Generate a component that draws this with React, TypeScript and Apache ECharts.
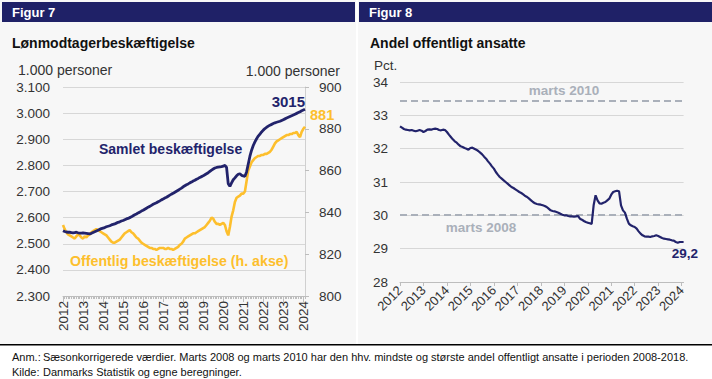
import React, { useEffect, useRef } from "react";
import * as echarts from "echarts";

const years = [2012, 2013, 2014, 2015, 2016, 2017, 2018, 2019, 2020, 2021, 2022, 2023, 2024];
const months: string[] = years
  .flatMap((y) => ["01", "02", "03", "04", "05", "06", "07", "08", "09", "10", "11", "12"].map((m) => `${y}-${m}`))
  .slice(0, 146);

// Lønmodtagerbeskæftigelse, samlet (1.000 personer, venstre akse)
const samlet = [
  2550, 2547, 2545, 2544, 2544, 2543, 2542, 2543, 2544, 2542, 2541, 2541,
  2542, 2541, 2540, 2539, 2538, 2540, 2543, 2546, 2549, 2552, 2555, 2558,
  2560, 2562, 2565, 2567, 2569, 2572, 2574, 2576, 2579, 2582, 2584, 2587,
  2589, 2592, 2595, 2597, 2600, 2603, 2607, 2611, 2614, 2618, 2621, 2625,
  2628, 2632, 2636, 2640, 2643, 2647, 2651, 2654, 2657, 2661, 2664, 2668,
  2671, 2675, 2678, 2682, 2686, 2690, 2693, 2697, 2701, 2705, 2709, 2713,
  2718, 2722, 2726, 2729, 2733, 2736, 2740, 2743, 2747, 2750, 2754, 2757,
  2760, 2764, 2768, 2772, 2777, 2782, 2786, 2790, 2792, 2793, 2794, 2795,
  2797, 2800, 2792, 2730, 2720, 2733, 2745, 2752, 2760, 2766, 2768, 2762,
  2760, 2758, 2775, 2805, 2835, 2858, 2876, 2890, 2902, 2912, 2920, 2928,
  2935, 2941, 2946, 2950, 2954, 2957, 2960, 2963, 2965, 2967, 2969, 2972,
  2975, 2978, 2981, 2984, 2987, 2990, 2993, 2996, 2999, 3002, 3005, 3009,
  3012, 3015,
];

// Offentlig beskæftigelse (1.000 personer, højre akse)
const offentlig = [
  834, 832, 830.5, 829.5, 829, 828.5, 828, 827.5, 828.5, 829.5, 829, 828,
  827.5, 828.5, 828, 829, 829.5, 830.5, 831, 831.5, 832, 831.5, 831, 830.5,
  830, 829.5, 829, 828, 827, 826, 825.5, 825.5, 826, 826.5, 827, 828,
  829, 830, 830.5, 831, 831.5, 830.5, 830, 829, 828, 827.5, 826.5, 825.5,
  825, 824.5, 824, 823.5, 823, 823, 822.5, 822.5, 822, 822.5, 823, 823,
  823, 822.5, 822.5, 823, 822.5, 822.5, 822, 822.5, 823, 823.5, 824.5, 825,
  826, 827.5, 828, 828.5, 829, 829.5, 830, 830, 830.5, 831, 831.5, 832,
  832.5, 833, 834, 835, 836, 837.5, 837, 835.5, 834.5, 834.5, 834, 834.5,
  835, 834, 831, 829, 833, 838, 841, 845, 847, 847.5, 848, 849,
  849, 850, 855, 860, 862, 864, 865, 866, 866.5, 867, 867, 867.5,
  867.5, 868, 868, 868.5, 869, 870, 871.5, 873, 874, 874.5, 875, 875.5,
  876, 876.5, 877, 877, 877.5, 877.5, 878, 878, 878.5, 877, 876, 878.5,
  880, 881,
];

// Andel offentligt ansatte (pct.)
const andel = [
  32.67, 32.63, 32.59, 32.57, 32.56, 32.55, 32.56, 32.54, 32.52, 32.54, 32.56, 32.54,
  32.5, 32.53, 32.57, 32.58, 32.57, 32.59, 32.6, 32.59, 32.56, 32.55, 32.57, 32.56,
  32.5, 32.42, 32.35, 32.28, 32.22, 32.18, 32.12, 32.07, 32.05, 32.02, 32.0, 31.97,
  32.02, 32.03, 32.0, 31.97, 31.93, 31.88, 31.83, 31.76, 31.7, 31.62, 31.55, 31.47,
  31.4, 31.3, 31.22, 31.15, 31.1, 31.05, 31.0, 30.95, 30.9, 30.85, 30.82, 30.78,
  30.74, 30.7, 30.67, 30.63, 30.58, 30.55, 30.5, 30.45, 30.4, 30.36, 30.34, 30.33,
  30.32, 30.3, 30.28, 30.25, 30.2, 30.15, 30.13, 30.12, 30.1, 30.08, 30.05, 30.02,
  30.0, 30.0, 29.98, 29.97, 29.97, 29.96, 29.97, 29.98, 29.9, 29.87, 29.83, 29.8,
  29.78, 29.76, 29.74, 30.3, 30.6, 30.45, 30.36, 30.35, 30.38, 30.4, 30.45, 30.5,
  30.62, 30.7, 30.72, 30.74, 30.72, 30.3, 30.15, 30.08, 29.9, 29.75, 29.7, 29.67,
  29.65, 29.6, 29.52, 29.45, 29.4, 29.37, 29.36, 29.36, 29.35, 29.37, 29.38, 29.4,
  29.38, 29.35, 29.32, 29.3, 29.29, 29.28, 29.27, 29.25, 29.24, 29.2, 29.18, 29.2,
  29.2, 29.2,
];

const refValues = [33.45, 30.02];
const refLabels = ["marts 2010", "marts 2008"];

const NAVY = "#22236b";
const ORANGE = "#fdbf2d";
const GRID = "#d7d7d7";
const AXIS = "#bdbdbd";
const LABEL = "#333333";
const REF = "#aab0ba";
const FONT = "'Liberation Sans', Arial, sans-serif";

const fmtThousand = (v: number) => {
  const t = Math.floor(v / 1000);
  const r = v % 1000;
  return t > 0 ? `${t}.${String(r).padStart(3, "0")}` : String(v);
};

export default function App() {
  const ref = useRef<HTMLDivElement>(null);

  useEffect(() => {
    if (!ref.current) return;
    const chart = echarts.init(ref.current, undefined, { renderer: "svg" });

    const txt = (
      text: string,
      x: number,
      y: number,
      opts: { size?: number; weight?: string; color?: string; align?: string } = {}
    ) => ({
      type: "text",
      x,
      y,
      silent: true,
      z: 100,
      style: {
        text,
        fill: opts.color ?? LABEL,
        fontSize: opts.size ?? 13.5,
        fontWeight: opts.weight ?? "normal",
        fontFamily: FONT,
        align: opts.align ?? "left",
        verticalAlign: "middle",
      },
    });

    const option: any = {
      animation: false,
      backgroundColor: "#ffffff",
      textStyle: { fontFamily: FONT },
      graphic: [
        { type: "rect", shape: { x: 0, y: 0, width: 356, height: 344 }, style: { fill: "#f7f7f7" }, silent: true, z: -10 },
        { type: "rect", shape: { x: 358, y: 0, width: 354, height: 344 }, style: { fill: "#f7f7f7" }, silent: true, z: -10 },
        { type: "rect", shape: { x: 2, y: 2, width: 353, height: 20 }, style: { fill: "#1f2167" }, silent: true, z: -5 },
        { type: "rect", shape: { x: 359, y: 2, width: 353, height: 20 }, style: { fill: "#1f2167" }, silent: true, z: -5 },
        { type: "rect", shape: { x: 0, y: 344, width: 712, height: 1.5 }, style: { fill: "#000000" }, silent: true },
        txt("Figur 7", 12, 12.5, { size: 13, weight: "bold", color: "#ffffff" }),
        txt("Figur 8", 369, 12.5, { size: 13, weight: "bold", color: "#ffffff" }),
        txt("Lønmodtagerbeskæftigelse", 12, 43, { size: 14, weight: "bold", color: "#111111" }),
        txt("Andel offentligt ansatte", 370, 43, { size: 14, weight: "bold", color: "#111111" }),
        txt("1.000 personer", 18, 70, { size: 14 }),
        txt("1.000 personer", 340, 71, { size: 14, align: "right" }),
        txt("Pct.", 374, 65, { size: 13.5 }),
        txt("Samlet beskæftigelse", 99, 149, { size: 14, weight: "bold", color: NAVY }),
        txt("Offentlig beskæftigelse (h. akse)", 70, 261, { size: 14.2, weight: "bold", color: ORANGE }),
        txt(String(samlet[samlet.length - 1]), 305, 101, { size: 15, weight: "bold", color: NAVY, align: "right" }),
        txt(String(offentlig[offentlig.length - 1]), 310, 115, { size: 14.5, weight: "bold", color: ORANGE }),
        txt(String(andel[andel.length - 1]).replace(".", ","), 698, 253, { size: 13.5, weight: "bold", color: NAVY, align: "right" }),
        txt(refLabels[0], 564, 90, { size: 13.5, weight: "bold", color: REF, align: "center" }),
        txt(refLabels[1], 481, 227, { size: 13.5, weight: "bold", color: REF, align: "center" }),
        txt("Anm.:", 12, 357, { size: 11, color: "#111111" }),
        txt(
          "Sæsonkorrigerede værdier. Marts 2008 og marts 2010 har den hhv. mindste og største andel offentligt ansatte i perioden 2008-2018.",
          43,
          357,
          { size: 11, color: "#111111" }
        ),
        txt("Kilde:", 12, 372, { size: 11, color: "#111111" }),
        txt("Danmarks Statistik og egne beregninger.", 43, 372, { size: 11, color: "#111111" }),
      ],
      grid: [
        { left: 63, top: 87, width: 242, height: 209, containLabel: false },
        { left: 400, top: 82, width: 283.6, height: 200, containLabel: false },
      ],
      xAxis: [
        {
          gridIndex: 0,
          type: "category",
          data: months,
          boundaryGap: false,
          axisLine: { show: true, lineStyle: { color: AXIS, width: 1 } },
          axisTick: { show: true, interval: 0, length: 3, lineStyle: { color: AXIS } },
          axisLabel: { show: false },
          splitLine: { show: false },
        },
        {
          gridIndex: 0,
          type: "category",
          data: months,
          position: "bottom",
          boundaryGap: false,
          axisLine: { show: false },
          axisTick: { show: true, interval: 11, length: 6, lineStyle: { color: AXIS } },
          axisLabel: {
            show: true,
            interval: 11,
            rotate: 90,
            margin: 5,
            fontSize: 13.5,
            color: LABEL,
            fontFamily: FONT,
            formatter: (v: string) => v.slice(0, 4),
          },
          splitLine: { show: false },
        },
        {
          gridIndex: 1,
          type: "category",
          data: months,
          boundaryGap: false,
          axisLine: { show: true, lineStyle: { color: AXIS, width: 1 } },
          axisTick: { show: true, interval: 11, length: 4, lineStyle: { color: AXIS } },
          axisLabel: {
            show: true,
            interval: 11,
            rotate: 45,
            margin: 6,
            fontSize: 13,
            color: LABEL,
            fontFamily: FONT,
            formatter: (v: string) => v.slice(0, 4),
          },
          splitLine: { show: false },
        },
      ],
      yAxis: [
        {
          gridIndex: 0,
          type: "value",
          position: "left",
          min: 2300,
          max: 3100,
          interval: 100,
          axisLine: { show: false },
          axisTick: { show: false },
          axisLabel: { margin: 13, fontSize: 13.5, color: LABEL, fontFamily: FONT, formatter: fmtThousand },
          splitLine: { show: true, lineStyle: { color: GRID, width: 1 } },
        },
        {
          gridIndex: 0,
          type: "value",
          position: "right",
          min: 800,
          max: 900,
          interval: 20,
          axisLine: { show: true, lineStyle: { color: "#d0d0d0", width: 1 } },
          axisTick: { show: true, length: 4, lineStyle: { color: AXIS } },
          axisLabel: { margin: 14, fontSize: 13.5, color: LABEL, fontFamily: FONT },
          splitLine: { show: false },
        },
        {
          gridIndex: 1,
          type: "value",
          min: 28,
          max: 34,
          interval: 1,
          axisLine: { show: false },
          axisTick: { show: false },
          axisLabel: { margin: 12, fontSize: 13.5, color: LABEL, fontFamily: FONT },
          splitLine: { show: true, lineStyle: { color: GRID, width: 1 } },
        },
      ],
      series: [
        {
          type: "line",
          name: "Offentlig beskæftigelse",
          xAxisIndex: 0,
          yAxisIndex: 1,
          data: offentlig,
          showSymbol: false,
          symbol: "none",
          lineStyle: { color: ORANGE, width: 2.6 },
          z: 3,
        },
        {
          type: "line",
          name: "Samlet beskæftigelse",
          xAxisIndex: 0,
          yAxisIndex: 0,
          data: samlet,
          showSymbol: false,
          symbol: "none",
          lineStyle: { color: NAVY, width: 2.8 },
          z: 4,
        },
        {
          type: "line",
          name: "Andel offentligt ansatte",
          xAxisIndex: 2,
          yAxisIndex: 2,
          data: andel,
          showSymbol: false,
          symbol: "none",
          lineStyle: { color: NAVY, width: 2.2 },
          z: 4,
          markLine: {
            silent: true,
            symbol: ["none", "none"],
            label: { show: false },
            lineStyle: { color: REF, width: 2, type: [7, 4] },
            data: refValues.map((v) => ({ yAxis: v })),
            z: 2,
          },
        },
      ],
    };

    chart.setOption(option);
    return () => chart.dispose();
  }, []);

  return (
    <div
      ref={ref}
      style={{ position: "absolute", left: 0, top: 0, width: 712, height: 379 }}
    />
  );
}
